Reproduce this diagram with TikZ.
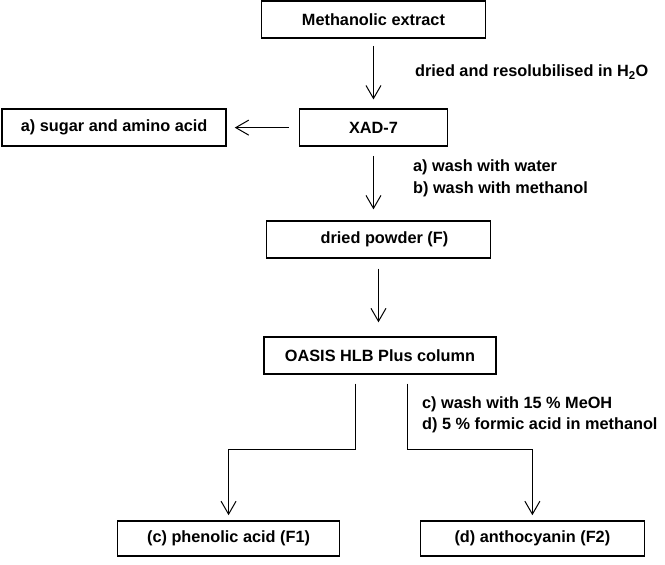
\documentclass[tikz,border=0pt]{standalone}
\usepackage{fontspec}
\setmainfont{Liberation Sans}
\usetikzlibrary{arrows.meta}

\begin{document}
\begin{tikzpicture}[x=1pt, y=-1pt,
  box/.style={draw, line width=1.4pt, minimum height=37pt, inner sep=0pt,
    font=\fontsize{16.3}{20}\selectfont\bfseries},
  flow/.style={line width=1pt, -{Straight Barb[length=13pt,width=15pt]}},
  note/.style={anchor=west, inner sep=0pt, font=\fontsize{16.3}{20}\selectfont\bfseries}]

  \draw[white,fill=white] (0,0) rectangle (665,564);
  \useasboundingbox (0,0) rectangle (665,564);

  % draw boxes
  \node[box, minimum width=224pt] (extract) at (373.5,19.5) {Methanolic extract};
  \node[box, minimum width=148pt] (xad) at (373.5,127.5) {XAD-7};
  \node[box, minimum width=224pt] (sugar) at (114,127.5) {a) sugar and amino acid};
  \node[box, minimum width=224pt] (powder) at (378.5,239.5) {\hspace{12pt}dried powder (F)};
  \node[box, minimum width=232pt] (oasis) at (380,355.5) {OASIS HLB Plus column};
  \node[box, minimum width=222pt, minimum height=35pt] (phenolic) at (228.5,538.5) {(c) phenolic acid (F1)};
  \node[box, minimum width=224pt, minimum height=35pt] (antho) at (532.5,538.5) {(d) anthocyanin (F2)};

  % draw arrows
  \draw[flow, shorten <=7pt, shorten >=9pt] (extract) -- (xad);
  \draw[flow, shorten <=10pt, shorten >=8pt] (xad) -- (sugar);
  \draw[flow, shorten <=9pt, shorten >=11pt] (xad.south) -- (xad.south |- powder.north);
  \draw[flow, shorten <=10pt, shorten >=14pt] (powder.south) -- (powder.south |- oasis.north);

  % split after the column
  \coordinate (lcorner) at (355.5,450);
  \coordinate (rcorner) at (407.5,450);
  \draw[flow, shorten <=9pt, shorten >=5pt] (oasis.south -| lcorner) -- (lcorner) -| (phenolic.north);
  \draw[flow, shorten <=9pt, shorten >=5pt] (oasis.south -| rcorner) -- (rcorner) -| (antho.north);

  % label steps
  \node[note] (dissolve) at (415,72) {dried and resolubilised in H\textsubscript{2}O};
  \node[note] (washa) at (413,167) {a) wash with water};
  \node[note] (washb) at (413,189) {b) wash with methanol};
  \node[note] (washc) at (422,404) {c) wash with 15 \% MeOH};
  \node[note] (washd) at (422,425) {d) 5 \% formic acid in methanol};
\end{tikzpicture}
\end{document}
